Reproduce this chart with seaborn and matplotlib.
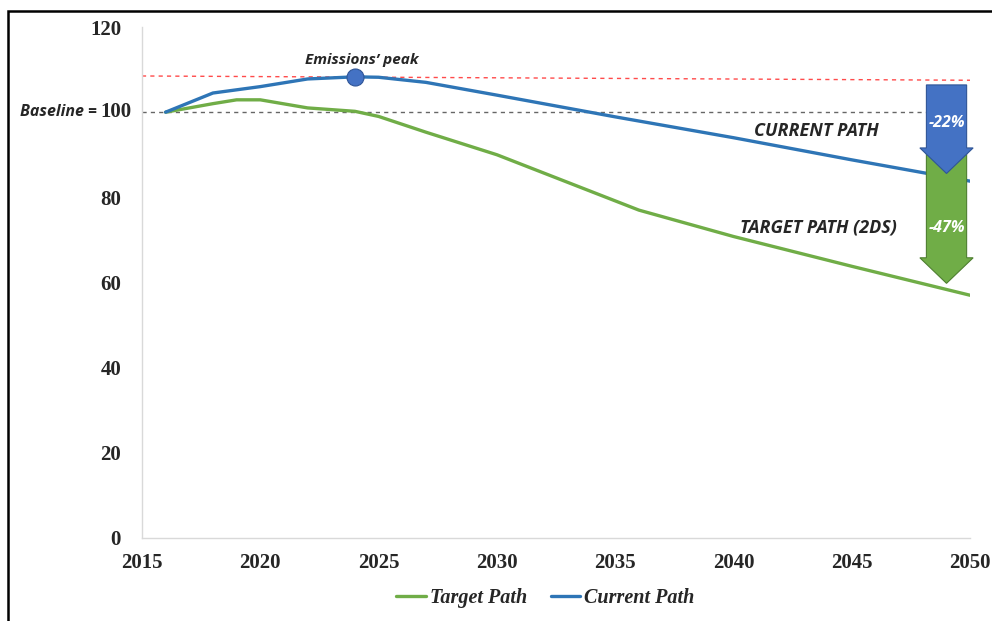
import numpy as np
import pandas as pd
import matplotlib
matplotlib.use("Agg")
import matplotlib.pyplot as plt
import seaborn as sns
from matplotlib.patches import FancyArrow, Rectangle
from matplotlib.lines import Line2D
import matplotlib.transforms as mtransforms

# data
years = [2016, 2018, 2020, 2022, 2024, 2025, 2027, 2030, 2035, 2040, 2045, 2050]
current_path = [100, 104.5, 106.0, 107.8, 108.3, 108.2, 107.0, 104.0, 98.9, 94.0, 88.8, 83.8]
target_years = [2016, 2018, 2019, 2020, 2022, 2024, 2025, 2027, 2030, 2036, 2040, 2045, 2050]
target_path = [100, 102.0, 102.9, 102.9, 101.0, 100.2, 99.0, 95.3, 90.0, 77.0, 70.8, 63.8, 57.0]

peak_year = 2024
peak_value = 108.3
baseline = 100
peak_line_x = [2015, 2050]
peak_line_y = [108.5, 107.5]

# reduction arrows: (top, tip)
arrow_x = 2049.0
arrow_22 = (106.4, 85.6)
arrow_47 = (91.0, 59.8)

blue = "#2E75B6"
green = "#70AD47"

df = pd.concat([
    pd.DataFrame({"year": target_years, "value": target_path, "path": "Target Path"}),
    pd.DataFrame({"year": years, "value": current_path, "path": "Current Path"}),
])

sns.set_style("white")
serif = ["Liberation Serif", "DejaVu Serif"]
sans = ["Open Sans", "DejaVu Sans"]

fig = plt.figure(figsize=(9.92, 6.21), dpi=100)
ax = fig.add_axes([0.1431, 0.1337, 0.978 - 0.1431, 0.9565 - 0.1337])

# frame around the figure
fig.add_artist(Rectangle((0.008, -0.1), 1.2, 1.082, transform=fig.transFigure,
                         fill=False, edgecolor="black", linewidth=1.8))

# reference lines
ax.plot(peak_line_x, peak_line_y, color="#FF4B4B", linestyle=(0, (3, 3)), linewidth=1.0)
ax.plot([2015, 2049.8], [baseline, baseline], color="#666666", linestyle=(0, (3, 3)), linewidth=1.0)

sns.lineplot(data=df, x="year", y="value", hue="path", hue_order=["Target Path", "Current Path"],
             palette=[green, blue], linewidth=2.4, ax=ax, legend=False)

ax.scatter([peak_year], [peak_value], s=150, color="#4472C4", edgecolor="#2F5597",
           linewidth=0.8, zorder=5)

# arrows
def add_arrow(top, tip, face, edge):
    arr = FancyArrow(arrow_x, top, 0, tip - top, width=1.7, head_width=2.25,
                     head_length=6.0, length_includes_head=True,
                     facecolor=face, edgecolor=edge, linewidth=0.8, zorder=6)
    arr.set_clip_on(False)
    ax.add_patch(arr)

add_arrow(arrow_47[0], arrow_47[1], "#70AD47", "#4E7F30")
add_arrow(arrow_22[0], arrow_22[1], "#4472C4", "#2F5597")

ax.text(arrow_x, 97.4, "-22%", color="white", ha="center", va="center",
        fontsize=11.5, fontweight="bold", fontstyle="italic", family=sans, zorder=7)
ax.text(arrow_x, 72.8, "-47%", color="white", ha="center", va="center",
        fontsize=11.5, fontweight="bold", fontstyle="italic", family=sans, zorder=7)

ax.text(peak_year + 0.3, 112.2, "Emissions\u2019 peak", ha="center", va="center",
        fontsize=11, fontweight="bold", fontstyle="italic", family=sans)
ax.text(2043.5, 95.5, "CURRENT PATH", ha="center", va="center",
        fontsize=13, fontweight="bold", fontstyle="italic", family=sans)
ax.text(2043.6, 73.0, "TARGET PATH (2DS)", ha="center", va="center",
        fontsize=13, fontweight="bold", fontstyle="italic", family=sans)

ax.set_xlim(2015, 2050)
ax.set_ylim(0, 120)
ax.set_xticks(range(2015, 2051, 5))
ax.set_yticks(range(0, 121, 20))
ax.set_yticklabels(["0", "20", "40", "60", "80", "", "120"])
for lab in ax.get_xticklabels() + ax.get_yticklabels():
    lab.set_fontfamily(serif)
    lab.set_fontweight("bold")
    lab.set_fontsize(15)
ax.tick_params(axis="x", length=0, pad=11)
ax.tick_params(axis="y", length=0, pad=15)
ax.set_xlabel("")
ax.set_ylabel("")

# baseline label
trans = mtransforms.blended_transform_factory(fig.transFigure, ax.transData)
ax.text(131 / 992, baseline, "100", transform=trans, ha="right", va="center",
        fontsize=15, fontweight="bold", family=serif)
ax.text(97 / 992, baseline, "Baseline =", transform=trans, ha="right", va="center",
        fontsize=11.5, fontweight="bold", fontstyle="italic", family=sans)

for side in ["top", "right"]:
    ax.spines[side].set_visible(False)
for side in ["left", "bottom"]:
    ax.spines[side].set_color("#D9D9D9")
    ax.spines[side].set_linewidth(1.0)

handles = [Line2D([], [], color=green, linewidth=2.4), Line2D([], [], color=blue, linewidth=2.4)]
fig.legend(handles, ["Target Path", "Current Path"], loc="center", bbox_to_anchor=(0.55, 0.037),
           ncol=2, frameon=False, handlelength=1.45, handletextpad=0.2, columnspacing=1.2,
           prop={"family": serif, "weight": "bold", "style": "italic", "size": 14.5})

fig.savefig("out.png", dpi=100)
